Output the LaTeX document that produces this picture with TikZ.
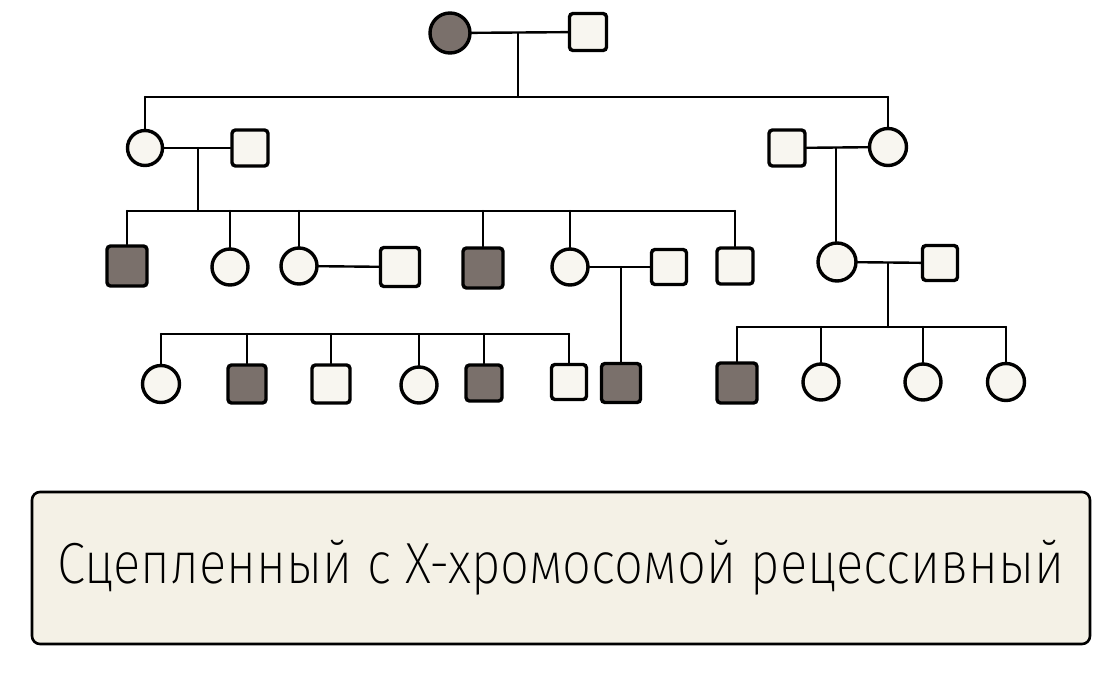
\documentclass[tikz,border=0pt]{standalone}
\usepackage{fontspec}
\newfontfamily\boxfont{Fira Sans ExtraLight}[FakeStretch=0.88]
\definecolor{aff}{HTML}{7A706B}
\definecolor{unaff}{HTML}{F8F6F0}
\definecolor{boxbg}{HTML}{F4F1E6}
\tikzset{
  person/.style={draw=black, line width=3.4pt, inner sep=0pt},
  fem/.style={person, circle, fill=unaff, minimum size=#1},
  femA/.style={person, circle, fill=aff, minimum size=#1},
  mal/.style={person, rectangle, rounded corners=3.5pt, fill=unaff, minimum size=#1},
  malA/.style={person, rectangle, rounded corners=3.5pt, fill=aff, minimum size=#1},
  link/.style={line width=2.4pt, line cap=round, line join=round},
}
\begin{document}
\begin{tikzpicture}[x=1pt,y=-1pt]
\useasboundingbox (0,0) rectangle (1120,680);
\fill[white] (0,0) rectangle (1120,680);
% helper coordinates
\coordinate (mI) at (518,33);
\coordinate (sI) at (518,97);
\coordinate (mIIa) at (198,148);
\coordinate (sIIa) at (198,211);
\coordinate (mIIb) at (836,148);
\coordinate (mIIIb) at (621,267);
\coordinate (mIIIc) at (888,263);
\coordinate (sIIIc) at (888,327);
\coordinate (sIVa) at (0,334);
% Generation I
\node[femA=40pt] (i1) at (450,33) {};
\node[mal=37pt] (i2) at (588,32) {};
% Generation II
\node[fem=35pt] (ii1) at (145,148) {};
\node[mal=36pt] (ii2) at (250,148) {};
\node[mal=36pt] (ii3) at (787,148) {};
\node[fem=37pt] (ii4) at (888,147) {};
% Generation III
\node[malA=40pt] (iii1) at (127,266) {};
\node[fem=36pt] (iii2) at (230,267) {};
\node[fem=36pt] (iii3) at (299,266) {};
\node[mal=39pt] (iii4) at (400,267) {};
\node[malA=40pt] (iii5) at (483,268) {};
\node[fem=36pt] (iii6) at (570,267) {};
\node[mal=35pt] (iii7) at (669,267) {};
\node[mal=36pt] (iii8) at (735,266) {};
\node[fem=38pt] (iii9) at (837,262) {};
\node[mal=35pt] (iii10) at (940,263) {};
% Generation IV
\node[fem=37pt] (iv1) at (161,384) {};
\node[malA=38pt] (iv2) at (247,384) {};
\node[mal=38pt] (iv3) at (331,384) {};
\node[fem=36pt] (iv4) at (419,385) {};
\node[malA=36pt] (iv5) at (484,383) {};
\node[mal=35pt] (iv6) at (569,382) {};
\node[malA=39pt] (iv7) at (621,383) {};
\node[malA=40pt] (iv8) at (737,383) {};
\node[fem=36pt] (iv9) at (821,382) {};
\node[fem=36pt] (iv10) at (923,382) {};
\node[fem=37pt] (iv11) at (1006,382) {};
\begin{scope}[link]
% Gen I couple and sibship
\draw (i1) -- (i2);
\draw (mI) -- (sI);
\draw (ii1.north |- sI) -- (ii4.north |- sI);
\draw (ii1.north |- sI) -- (ii1.north);
\draw (ii4.north |- sI) -- (ii4.north);
% Gen II left couple
\draw (ii1) -- (ii2);
\draw (mIIa) -- (sIIa);
\draw (iii1.north |- sIIa) -- (iii8.north |- sIIa);
\foreach \n in {iii1,iii2,iii3,iii5,iii6,iii8}
  \draw (\n.north |- sIIa) -- (\n.north);
% Gen II right couple
\draw (ii3) -- (ii4);
\draw (mIIb) -- (mIIb |- iii9.north);
% Gen III couples
\draw (iii3) -- (iii4);
\draw (iii6) -- (iii7);
\draw (mIIIb) -- (iv7.north);
\draw (iii9) -- (iii10);
\draw (mIIIc) -- (sIIIc);
\draw (iv8.north |- sIIIc) -- (iv11.north |- sIIIc);
\foreach \n in {iv8,iv9,iv10,iv11}
  \draw (\n.north |- sIIIc) -- (\n.north);
% Gen IV left sibship
\draw (iv1.north |- sIVa) -- (iv6.north |- sIVa);
\foreach \n in {iv1,iv2,iv3,iv4,iv5,iv6}
  \draw (\n.north |- sIVa) -- (\n.north);
\end{scope}
% Caption box
\node[draw=black, line width=2.6pt, fill=boxbg, rounded corners=8pt,
      minimum width=1058pt, minimum height=152pt, inner sep=0pt,
      font=\boxfont\fontsize{58}{66}\selectfont] (cap) at (561,568)
  {Сцепленный с Х-хромосомой рецессивный};
\end{tikzpicture}
\end{document}
